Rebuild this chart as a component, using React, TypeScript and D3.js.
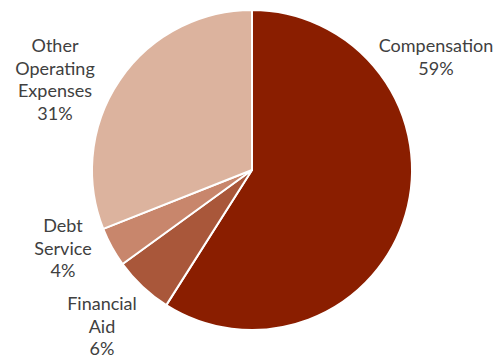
import React from "react";
import * as d3 from "d3";

const categories = ["Compensation", "Financial Aid", "Debt Service", "Other Operating Expenses"];
const values = [59, 6, 4, 31];
const colors = ["#8a1e00", "#a9573a", "#c8866c", "#dcb39e"];
const labelLines = [["Compensation", "59%"], ["Financial", "Aid", "6%"], ["Debt", "Service", "4%"], ["Other", "Operating", "Expenses", "31%"]];
const labelPos = [[436, 52], [102, 310], [63, 232], [55, 52]];

export default function App() {
  const W = 499, H = 356;
  const cx = 252, cy = 170, r = 160;
  const pie = d3.pie<number>().sort(null).value((d) => d)(values);
  const arc = d3.arc<d3.PieArcDatum<number>>().innerRadius(0).outerRadius(r);
  return (
    <svg width={W} height={H} style={{ position: "absolute", left: 0, top: 0 }}>
      <g transform={`translate(${cx},${cy})`}>
        {pie.map((p, i) => (
          <path key={categories[i]} d={arc(p) || ""} fill={colors[i]} stroke="#fff" strokeWidth={2} strokeLinejoin="round" />
        ))}
      </g>
      {labelLines.map((lines, i) => (
        <text key={i} x={labelPos[i][0]} y={labelPos[i][1]} textAnchor="middle" fontFamily="Lato, 'Open Sans', sans-serif" fontSize={18} fill="#404040">
          {lines.map((l, j) => (
            <tspan key={j} x={labelPos[i][0]} dy={j === 0 ? 0 : 22.5}>{l}</tspan>
          ))}
        </text>
      ))}
    </svg>
  );
}
